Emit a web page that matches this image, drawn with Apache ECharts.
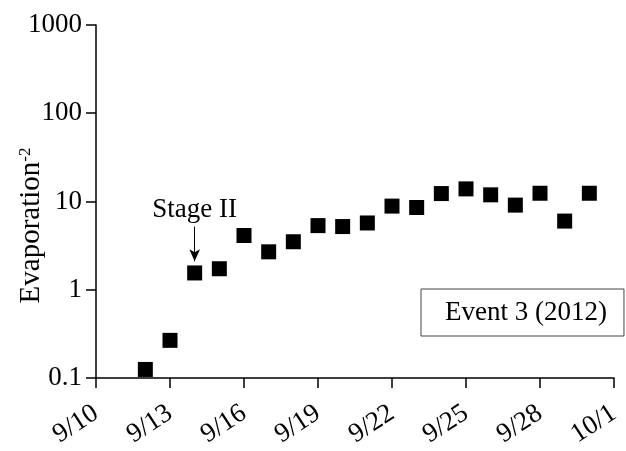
<!DOCTYPE html>
<html>
<head>
<meta charset="utf-8">
<script src="https://cdn.jsdelivr.net/npm/echarts@6/dist/echarts.min.js"></script>
<style>html,body{margin:0;padding:0;background:#fff}#c{width:626px;height:451px}</style>
</head>
<body>
<div id="c"></div>
<script>
// Data (day of September; value)
var days = [12,13,14,15,16,17,18,19,20,21,22,23,24,25,26,27,28,29,30];
var values = [0.125,0.267,1.55,1.73,4.12,2.69,3.5,5.33,5.2,5.71,8.87,8.55,12.3,13.9,11.9,9.1,12.4,6.0,12.4];
var xTickLabels = ['9/10','9/13','9/16','9/19','9/22','9/25','9/28','10/1'];
var yTickLabels = ['0.1','1','10','100','1000'];
var seriesName = 'Event 3 (2012)';
var annotationText = 'Stage II';
var annotationDay = 14;

var startDay = 10;
var font = 'Liberation Serif, Times New Roman, serif';
var pts = days.map(function(d,i){return [d-startDay, values[i]];});

var chart = echarts.init(document.getElementById('c'));
chart.setOption({
  animation:false,
  backgroundColor:'#fff',
  grid:{left:96,right:12,top:25,bottom:73,containLabel:false,outerBoundsMode:'none'},
  legend:{
    data:[{name:seriesName, icon:'none'}],
    left:421, top:289,
    itemWidth:0, itemHeight:0, itemGap:0,
    padding:[10,17,10,19],
    borderColor:'#444', borderWidth:1,
    textStyle:{fontFamily:font,fontSize:27,color:'#000'},
    selectedMode:false
  },
  xAxis:{
    type:'value', min:0, max:21, interval:3,
    axisLine:{lineStyle:{color:'#000',width:1.5}},
    axisTick:{length:10,lineStyle:{color:'#000',width:1.5}},
    splitLine:{show:false},
    axisLabel:{
      rotate:33, margin:33, color:'#000', fontFamily:font, fontSize:27,
      formatter:function(v){return xTickLabels[Math.round(v/3)];}
    }
  },
  yAxis:{
    type:'log', logBase:10, min:0.1, max:1000,
    name:'{a|Evaporation}{s|-2}',
    nameLocation:'middle', nameRotate:90, nameGap:50, nameMoveOverlap:false,
    nameTextStyle:{padding:[0,48,0,0],rich:{
      a:{fontFamily:font,fontSize:29,color:'#000',verticalAlign:'bottom'},
      s:{fontFamily:font,fontSize:17,color:'#000',verticalAlign:'top',padding:[0,0,12,0]}
    }},
    axisLine:{show:true,lineStyle:{color:'#000',width:1.5}},
    axisTick:{length:10,lineStyle:{color:'#000',width:1.5}},
    splitLine:{show:false},
    minorTick:{show:false},
    axisLabel:{
      margin:14, color:'#000', fontFamily:font, fontSize:27,
      formatter:function(v){return yTickLabels[Math.round(Math.log10(v))+1];}
    }
  },
  series:[{
    name:seriesName,
    type:'scatter',
    symbol:'rect',
    symbolSize:15,
    itemStyle:{color:'#000',opacity:1},
    data:pts,
    markLine:{
      silent:true,
      symbol:['none','arrow'],
      symbolSize:[8,12],
      lineStyle:{color:'#000',width:1,type:'solid'},
      label:{show:false},
      data:[[{coord:[annotationDay-startDay,5.2]},{coord:[annotationDay-startDay,2.1]}]]
    },
    markPoint:{
      silent:true,
      symbol:'circle', symbolSize:0,
      label:{show:true,formatter:annotationText,position:'inside',fontFamily:font,fontSize:27,color:'#000'},
      data:[{coord:[annotationDay-startDay,8.1]}]
    }
  }]
});
</script>
</body>
</html>
